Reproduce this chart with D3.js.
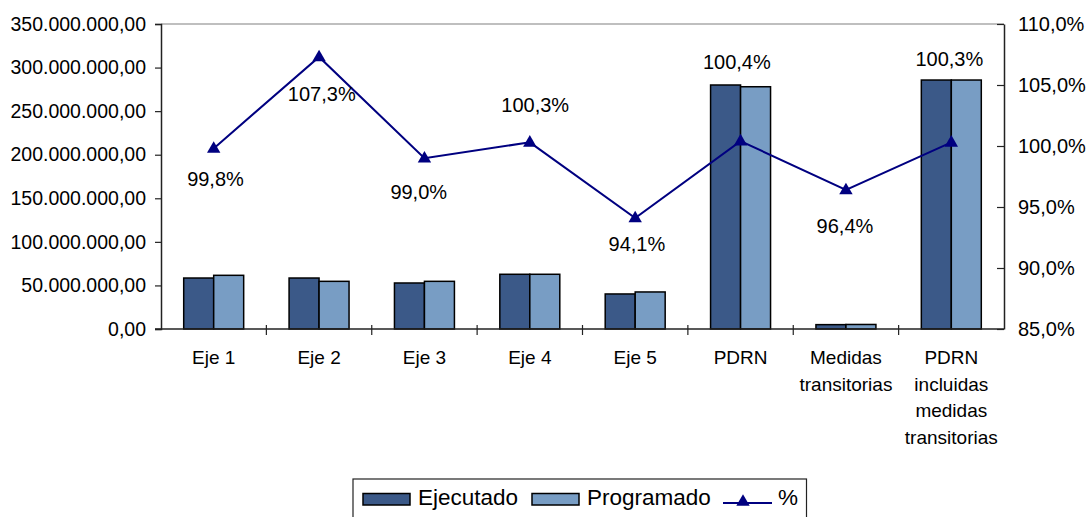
<!DOCTYPE html>
<html>
<head>
<meta charset="utf-8">
<script src="https://cdn.jsdelivr.net/npm/d3@7"></script>
<style>
  html, body { margin: 0; padding: 0; background: #fff; }
  svg { display: block; font-family: "Liberation Sans", Arial, sans-serif; }
</style>
</head>
<body>
<svg id="chart" width="1086" height="517"></svg>
<script>
// Categories (line breaks mark wrapped axis labels)
const categories = [
  "Eje 1", "Eje 2", "Eje 3", "Eje 4", "Eje 5", "PDRN",
  "Medidas\ntransitorias", "PDRN\nincluidas\nmedidas\ntransitorias"
];
// Amounts in euros
const ejecutado  = [58.5e6, 58.5e6, 52.8e6, 62.8e6, 40.2e6, 280.0e6, 5.0e6, 285.7e6];
const programado = [61.6e6, 54.7e6, 54.7e6, 62.8e6, 42.5e6, 278.0e6, 5.2e6, 285.7e6];
// Execution rate (%)
const percent = [99.8, 107.3, 99.0, 100.3, 94.1, 100.4, 96.4, 100.3];
// Tick values
const leftTicks  = [0, 50e6, 100e6, 150e6, 200e6, 250e6, 300e6, 350e6];
const rightTicks = [85, 90, 95, 100, 105, 110];
const seriesNames = ["Ejecutado", "Programado"];

// Placement of the percentage labels relative to each marker
const labelDx = [1.8, 2.7, -5.7, 5.4, 1.7, -3.7, -1, -2];
const labelDy = [37.6, 44.1, 41.1, -30.6, 33, -71.8, 42.8, -76.3];

const colors = { Ejecutado: "#3b5988", Programado: "#789dc4", line: "#000080" };

const es = d3.formatLocale({ decimal: ",", thousands: ".", grouping: [3], currency: ["", " €"] });
const fmtMoney = es.format(",.2f");
const fmtPct = v => es.format(".1f")(v) + "%";

const svg = d3.select("#chart");
const plot = { left: 161, right: 1004, top: 24, bottom: 329 };

const x0 = d3.scaleBand().domain(categories).range([plot.left, plot.right]).padding(0);
const x1 = d3.scaleBand().domain(seriesNames).range([0, x0.bandwidth()]).paddingInner(0).paddingOuter(0.757);
const yL = d3.scaleLinear().domain([0, 350e6]).range([plot.bottom, plot.top]);
const yR = d3.scaleLinear().domain([85, 110]).range([plot.bottom, plot.top]);

// Top border of plot area
svg.append("line")
  .attr("x1", plot.left).attr("x2", plot.right)
  .attr("y1", plot.top).attr("y2", plot.top)
  .attr("stroke", "#808080").attr("stroke-width", 1.2);

// Bars
const groups = svg.append("g").selectAll("g")
  .data(categories.map((c, i) => ({ c, vals: [ejecutado[i], programado[i]] })))
  .join("g")
  .attr("transform", d => `translate(${x0(d.c)},0)`);

groups.selectAll("rect")
  .data(d => d.vals.map((v, j) => ({ key: seriesNames[j], v })))
  .join("rect")
  .attr("x", d => x1(d.key))
  .attr("width", x1.bandwidth())
  .attr("y", d => yL(d.v))
  .attr("height", d => yL(0) - yL(d.v))
  .attr("fill", d => colors[d.key])
  .attr("stroke", "#000")
  .attr("stroke-width", 1.5);

// Left axis
const leftAxis = svg.append("g")
  .attr("transform", `translate(${plot.left},0)`)
  .call(d3.axisLeft(yL).tickValues(leftTicks).tickFormat(fmtMoney).tickSize(6).tickPadding(9));
leftAxis.select(".domain").attr("stroke", "#222").attr("stroke-width", 1.5);
leftAxis.selectAll(".tick line").attr("stroke", "#222").attr("stroke-width", 1.2);
leftAxis.selectAll("text").attr("font-size", 19.5).attr("fill", "#000")
  .attr("font-family", "Liberation Sans, Arial, sans-serif");

// Right axis (ticks pointing inward)
const rightAxis = svg.append("g")
  .attr("transform", `translate(${plot.right},0)`)
  .call(d3.axisRight(yR).tickValues(rightTicks).tickFormat(fmtPct).tickSizeInner(-7).tickSizeOuter(0).tickPadding(14));
rightAxis.select(".domain").attr("stroke", "#222").attr("stroke-width", 1.5);
rightAxis.selectAll(".tick line").attr("stroke", "#222").attr("stroke-width", 1.2);
rightAxis.selectAll("text").attr("font-size", 20).attr("fill", "#000")
  .attr("font-family", "Liberation Sans, Arial, sans-serif");

// Bottom category axis
const bottom = svg.append("g");
bottom.append("line")
  .attr("x1", plot.left - 6).attr("x2", plot.right)
  .attr("y1", plot.bottom).attr("y2", plot.bottom)
  .attr("stroke", "#222").attr("stroke-width", 1.5);
const boundaries = categories.map(c => x0(c)).concat([plot.right]).slice(1, -1);
bottom.selectAll("line.ct")
  .data(boundaries)
  .join("line")
  .attr("class", "ct")
  .attr("x1", d => d).attr("x2", d => d)
  .attr("y1", plot.bottom - 4).attr("y2", plot.bottom + 6)
  .attr("stroke", "#222").attr("stroke-width", 1.2);

bottom.selectAll("text.cat")
  .data(categories)
  .join("text")
  .attr("class", "cat")
  .attr("x", d => x0(d) + x0.bandwidth() / 2)
  .attr("y", 364)
  .attr("text-anchor", "middle")
  .attr("font-size", 19)
  .attr("fill", "#000")
  .each(function (d) {
    const t = d3.select(this);
    d.split("\n").forEach((line, k) => {
      t.append("tspan")
        .attr("x", x0(d) + x0.bandwidth() / 2)
        .attr("y", 364 + k * 26.5)
        .text(line);
    });
  });

// Percentage line
const cx = c => x0(c) + x0.bandwidth() / 2;
const line = d3.line().x((d, i) => cx(categories[i])).y(d => yR(d));
svg.append("path")
  .datum(percent)
  .attr("d", line)
  .attr("fill", "none")
  .attr("stroke", colors.line)
  .attr("stroke-width", 2);

const tri = d3.symbol().type(d3.symbolTriangle).size(78);
svg.append("g").selectAll("path")
  .data(percent)
  .join("path")
  .attr("d", tri)
  .attr("transform", (d, i) => `translate(${cx(categories[i])},${yR(d) + 0.5})`)
  .attr("fill", colors.line);

// Percentage labels
svg.append("g").selectAll("text")
  .data(percent)
  .join("text")
  .attr("x", (d, i) => cx(categories[i]) + labelDx[i])
  .attr("y", (d, i) => yR(d) + labelDy[i])
  .attr("text-anchor", "middle")
  .attr("font-size", 20)
  .attr("fill", "#000")
  .text(d => fmtPct(d));

// Legend
const lg = svg.append("g");
lg.append("rect")
  .attr("x", 353).attr("y", 479).attr("width", 453.5).attr("height", 60)
  .attr("fill", "#fff").attr("stroke", "#222").attr("stroke-width", 1.2);

const legendItems = [
  { key: "Ejecutado", sx: 363, tx: 418 },
  { key: "Programado", sx: 532, tx: 587 }
];
legendItems.forEach(it => {
  lg.append("rect")
    .attr("x", it.sx).attr("y", 493.5).attr("width", 47).attr("height", 11.5)
    .attr("fill", colors[it.key]).attr("stroke", "#000").attr("stroke-width", 1.5);
  lg.append("text")
    .attr("x", it.tx).attr("y", 505)
    .attr("font-size", 22.5).attr("fill", "#000")
    .text(it.key);
});
lg.append("line")
  .attr("x1", 723).attr("x2", 772).attr("y1", 503).attr("y2", 503)
  .attr("stroke", colors.line).attr("stroke-width", 2);
lg.append("path")
  .attr("d", tri)
  .attr("transform", "translate(743,502)")
  .attr("fill", colors.line);
lg.append("text")
  .attr("x", 778).attr("y", 505)
  .attr("font-size", 22.5).attr("fill", "#000")
  .text("%");
</script>
</body>
</html>
